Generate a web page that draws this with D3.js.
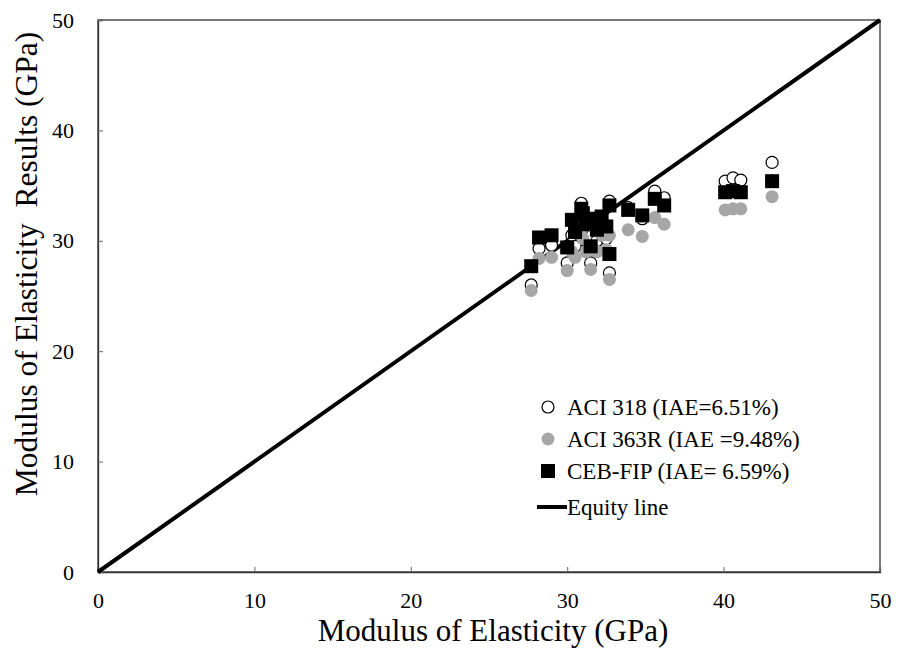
<!DOCTYPE html>
<html><head><meta charset="utf-8">
<script src="https://cdn.jsdelivr.net/npm/d3@7/dist/d3.min.js"></script>
<style>body{margin:0;background:#fff}svg{display:block}text{font-family:"Liberation Serif","Times New Roman",serif}</style>
</head><body>
<svg id="c" width="898" height="656"></svg>
<script>
const xTicks = [0, 10, 20, 30, 40, 50];
const yTicks = [0, 10, 20, 30, 40, 50];
const measured = [27.7, 28.2, 29.0, 30.0, 30.3, 30.5, 30.9, 31.0, 31.2, 31.5, 31.6, 31.9, 32.2, 32.5, 32.7, 32.7, 33.9, 34.8, 35.6, 36.2, 40.1, 40.6, 41.1, 43.1];
const aci318 = [26.0, 29.3, 29.6, 28.0, 30.5, 29.5, 33.4, 31.5, 30.0, 28.0, 30.5, 30.0, 31.5, 30.2, 33.6, 27.1, 33.0, 32.0, 34.5, 33.9, 35.4, 35.7, 35.5, 37.1];
const aci363 = [25.5, 28.4, 28.5, 27.3, 29.0, 28.5, 31.0, 30.2, 29.0, 27.4, 29.4, 29.0, 30.5, 29.2, 30.5, 26.5, 31.0, 30.4, 32.1, 31.5, 32.8, 32.9, 32.9, 34.0];
const cebfip = [27.7, 30.3, 30.5, 29.4, 31.9, 30.8, 32.9, 32.5, 31.5, 29.5, 32.0, 31.0, 32.2, 31.3, 33.2, 28.8, 32.8, 32.3, 33.8, 33.2, 34.4, 34.5, 34.4, 35.4];
const legendLabels = ["ACI 318 (IAE=6.51%)", "ACI 363R (IAE =9.48%)", "CEB-FIP (IAE= 6.59%)", "Equity line"];

const svg = d3.select("#c");
const L = 98, R = 880, T = 20, B = 572;
const x = d3.scaleLinear().domain([0, 50]).range([L, R]);
const y = d3.scaleLinear().domain([0, 50]).range([B, T]);

// frame
svg.append("rect").attr("x", L).attr("y", T).attr("width", R - L).attr("height", B - T)
  .attr("fill", "none").attr("stroke", "#333").attr("stroke-width", 1.3);

const xa = svg.append("g").attr("transform", `translate(0,${B})`)
  .call(d3.axisBottom(x).tickValues(xTicks).tickSize(-5).tickPadding(20).tickFormat(d3.format("d")));
const ya = svg.append("g").attr("transform", `translate(${L},0)`)
  .call(d3.axisLeft(y).tickValues(yTicks).tickSize(-5).tickPadding(24).tickFormat(d3.format("d")));
[xa, ya].forEach(g => {
  g.select(".domain").attr("stroke", "#333").attr("stroke-width", 1.3);
  g.selectAll(".tick line").attr("stroke", "#666");
  g.selectAll("text").attr("font-size", 22).attr("fill", "#000").attr("font-family", "Liberation Serif");
});
xa.selectAll("text").attr("dy", "0.71em");

// equity line
svg.append("line").attr("x1", x(0)).attr("y1", y(0)).attr("x2", x(50)).attr("y2", y(50))
  .attr("stroke", "#000").attr("stroke-width", 4);

// points
const idx = d3.range(measured.length);
svg.append("g").selectAll("circle").data(idx).join("circle")
  .attr("cx", i => x(measured[i])).attr("cy", i => y(aci318[i])).attr("r", 6)
  .attr("fill", "#fff").attr("stroke", "#000").attr("stroke-width", 1.2);
svg.append("g").selectAll("circle").data(idx).join("circle")
  .attr("cx", i => x(measured[i])).attr("cy", i => y(aci363[i])).attr("r", 6.5)
  .attr("fill", "#a6a6a6");
svg.append("g").selectAll("rect").data(idx).join("rect")
  .attr("x", i => x(measured[i]) - 7).attr("y", i => y(cebfip[i]) - 7)
  .attr("width", 14).attr("height", 14).attr("fill", "#000");

// legend
const lg = svg.append("g");
const rows = [407, 439, 471, 507];
lg.append("circle").attr("cx", 548).attr("cy", rows[0]).attr("r", 6).attr("fill", "#fff").attr("stroke", "#000").attr("stroke-width", 1.2);
lg.append("circle").attr("cx", 548).attr("cy", rows[1]).attr("r", 6.5).attr("fill", "#a6a6a6");
lg.append("rect").attr("x", 541).attr("y", rows[2] - 7).attr("width", 14).attr("height", 14).attr("fill", "#000");
lg.append("line").attr("x1", 537).attr("x2", 567).attr("y1", rows[3]).attr("y2", rows[3]).attr("stroke", "#000").attr("stroke-width", 4);
legendLabels.forEach((t, i) => {
  lg.append("text").attr("x", 567).attr("y", rows[i]).attr("dy", "0.35em")
    .attr("font-size", 23).text(t);
});

// axis titles
svg.append("text").attr("x", 493).attr("y", 641).attr("text-anchor", "middle")
  .attr("font-size", 31).text("Modulus of Elasticity (GPa)");
svg.append("text").attr("transform", `translate(37,264) rotate(-90)`).attr("text-anchor", "middle")
  .style("white-space", "pre").attr("font-size", 31.5).text("Modulus of Elasticity  Results (GPa)");
</script>
</body></html>
